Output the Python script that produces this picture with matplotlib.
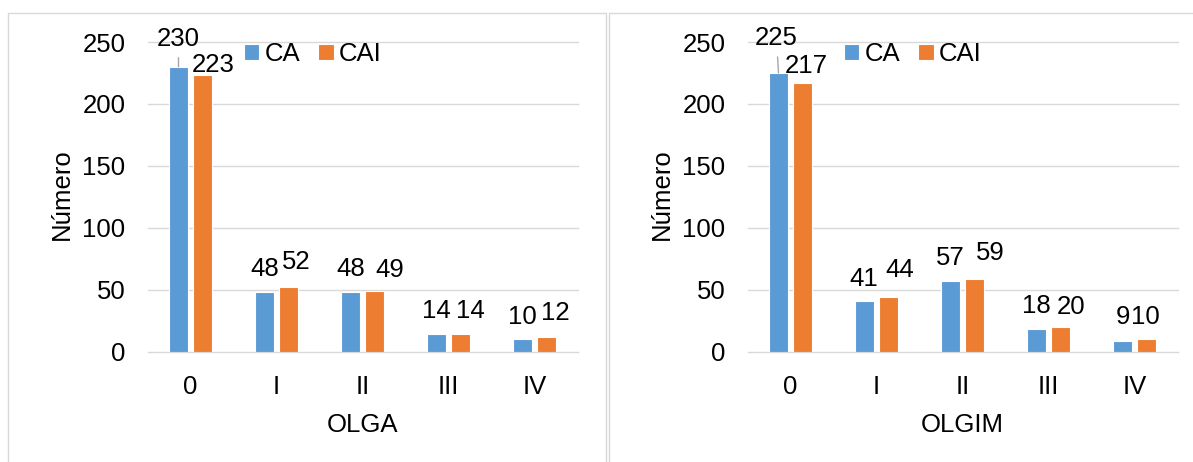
import matplotlib
matplotlib.use("Agg")
import matplotlib.pyplot as plt
from matplotlib.patches import Rectangle
import numpy as np

plt.rcParams['font.family'] = ['Liberation Sans', 'DejaVu Sans']

grades = ["0", "I", "II", "III", "IV"]
series_names = ["CA", "CAI"]

olga_ca = [230, 48, 48, 14, 10]
olga_cai = [223, 52, 49, 14, 12]
olgim_ca = [225, 41, 57, 18, 9]
olgim_cai = [217, 44, 59, 20, 10]

BLUE = "#5B9BD5"
ORANGE = "#ED7D31"
GRID = "#d9d9d9"
FS = 18.5

# label nudges in pixels (dx, dy above the bar top), per bar
olga_ca_nudge = [(0, 21), (0, 16), (0, 16), (0, 16), (0, 15)]
olga_cai_nudge = [(11, 3), (8, 18), (15, 14), (10, 16), (9, 17)]
olgim_ca_nudge = [(-2, 28), (-1, 15), (0, 16), (0, 16), (0, 17)]
olgim_cai_nudge = [(4, 10), (11, 20), (16, 19), (11, 13), (-1, 15)]

W, H = 1193, 462
fig = plt.figure(figsize=(W / 100, H / 100), dpi=100)

# chart frames
fig.add_artist(Rectangle((8 / W, -0.1), (605.5 - 8) / W, 1.1 - 12.7 / H,
                         transform=fig.transFigure, fill=False, edgecolor=GRID, lw=1.0))
fig.add_artist(Rectangle((608.5 / W, -0.1), 0.6, 1.1 - 12.7 / H,
                         transform=fig.transFigure, fill=False, edgecolor=GRID, lw=1.0))

px_per_unit = 309.7 / 250
ytop = 255
ax_h = ytop * px_per_unit / H
ax_y0 = (H - 351.7) / H


def draw_panel(left_px, ca, cai, ca_nudge, cai_nudge, xlabel):
    ax = fig.add_axes([left_px / W, ax_y0, 430 / W, ax_h])
    x = np.arange(len(grades))
    bw = 19 / 86
    off = 12 / 86
    ax.bar(x - off, ca, bw, color=BLUE, edgecolor="white", linewidth=0.8,
           label=series_names[0], zorder=3)
    ax.bar(x + off, cai, bw, color=ORANGE, edgecolor="white", linewidth=0.8,
           label=series_names[1], zorder=3)

    ax.set_xlim(-0.5, len(grades) - 0.5)
    ax.set_ylim(0, ytop)
    ax.set_yticks(range(0, 251, 50))
    ax.set_xticks(x)
    ax.set_xticklabels(grades)
    ax.tick_params(axis="both", length=0, labelsize=FS, colors="black")
    ax.tick_params(axis="y", pad=16)
    ax.tick_params(axis="x", pad=16.5)
    for s in ax.spines.values():
        s.set_visible(False)
    ax.yaxis.grid(True, color=GRID, linewidth=1.0, zorder=0)
    for gl in ax.get_ygridlines():
        gl.set_clip_on(False)
    ax.set_axisbelow(True)

    ax.set_xlabel(xlabel, fontsize=FS, labelpad=10)
    ax.set_ylabel("Número", fontsize=FS, labelpad=6)

    for i in range(len(grades)):
        dx, dy = ca_nudge[i]
        kw = {}
        if i == 0:
            # leader line for the label moved off the tallest bar
            kw["arrowprops"] = dict(arrowstyle="-", color="#a6a6a6", lw=1.0, shrinkA=3, shrinkB=0)
        ax.annotate(str(ca[i]), xy=(x[i] - off, ca[i]), xytext=(dx, dy), textcoords="offset pixels",
                    ha="center", va="baseline", fontsize=FS, annotation_clip=False, **kw)
        dx, dy = cai_nudge[i]
        ax.annotate(str(cai[i]), xy=(x[i] + off, cai[i]), xytext=(dx, dy), textcoords="offset pixels",
                    ha="center", va="baseline", fontsize=FS, annotation_clip=False)

    ax.legend(loc="upper left", bbox_to_anchor=(96.5 / 430, (351.7 - 42) / (ytop * px_per_unit)),
              frameon=False, fontsize=FS, ncol=2, borderpad=0, borderaxespad=0,
              handlelength=0.6, handleheight=0.6, handletextpad=0.2, columnspacing=0.7)
    return ax


draw_panel(147.5, olga_ca, olga_cai, olga_ca_nudge, olga_cai_nudge, "OLGA")
draw_panel(747.5, olgim_ca, olgim_cai, olgim_ca_nudge, olgim_cai_nudge, "OLGIM")

fig.savefig("out.png", dpi=100)
